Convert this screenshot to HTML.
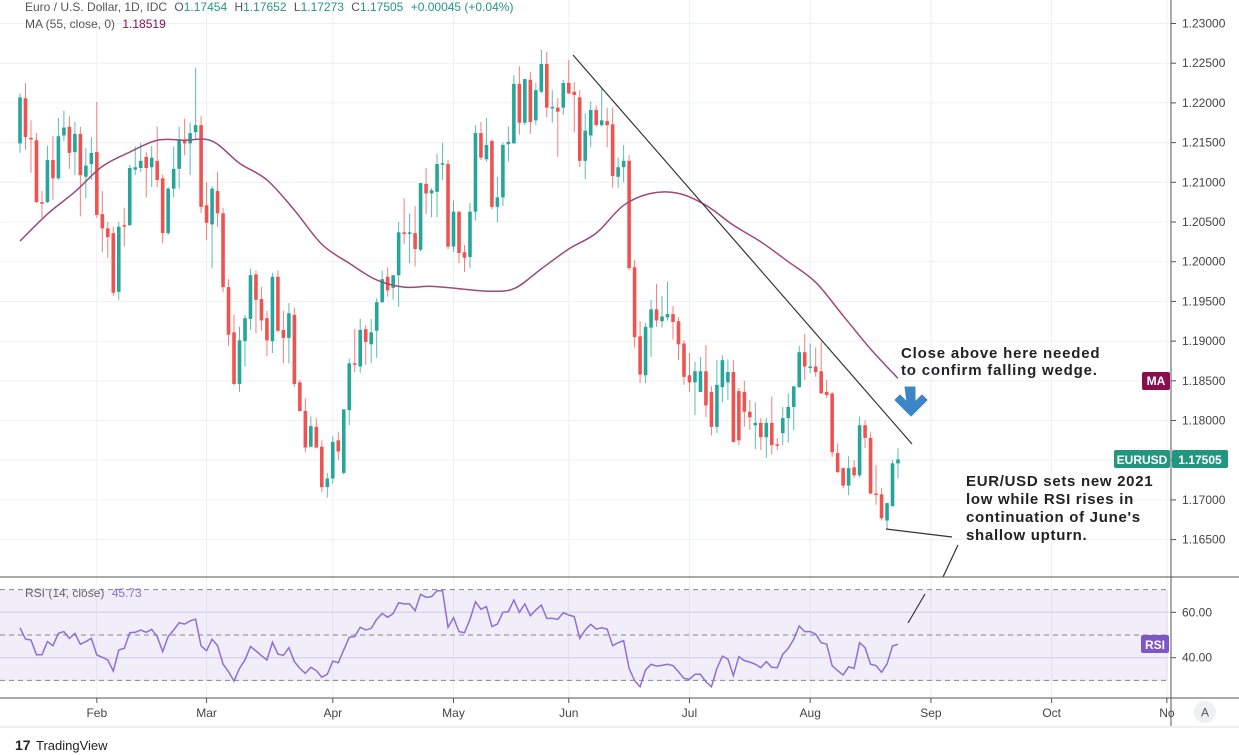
<!DOCTYPE html>
<html><head><meta charset="utf-8"><style>
html,body{margin:0;padding:0;background:#fff;}
svg{display:block;font-family:"Liberation Sans",sans-serif;}
</style></head><body>
<svg id="chart" width="1239" height="755" viewBox="0 0 1239 755" xmlns="http://www.w3.org/2000/svg">
<g id="grid"></g>
<rect x="0" y="590" width="1168" height="91" fill="#7e57c2" fill-opacity="0.1"/>
<g id="rsiLevels"></g>
<g id="candles"></g>
<path id="maLine" fill="none" stroke="#9c4a7a" stroke-width="1.5"/>
<polyline id="rsiLine" fill="none" stroke="#8e6fd6" stroke-width="1.5"/>
<line x1="573" y1="55" x2="912" y2="444" stroke="#333" stroke-width="1.2"/>
<line x1="886" y1="529" x2="952" y2="537" stroke="#333" stroke-width="1.2"/>
<line x1="958" y1="545" x2="943" y2="577" stroke="#333" stroke-width="1.2"/>
<line x1="925" y1="594" x2="908" y2="623" stroke="#333" stroke-width="1.2"/>
<path d="M905,387 h10 v15 l7,-7 l5,5 l-16,16 l-16,-16 l5,-5 l7,7 z" fill="#3d85c6" stroke="#3d85c6" stroke-width="1" stroke-linejoin="round"/>
<g font-size="15" font-weight="bold" fill="#222" letter-spacing="0.8">
<text x="901" y="358">Close above here needed</text>
<text x="901" y="375">to confirm falling wedge.</text>
</g>
<g font-size="15" font-weight="bold" fill="#222" letter-spacing="0.7">
<text x="966" y="486">EUR/USD sets new 2021</text>
<text x="966" y="504">low while RSI rises in</text>
<text x="966" y="522">continuation of June's</text>
<text x="966" y="540">shallow upturn.</text>
</g>
<line x1="1171" y1="0" x2="1171" y2="726" stroke="#555" stroke-width="1"/>
<line x1="0" y1="577" x2="1239" y2="577" stroke="#555" stroke-width="1"/>
<line x1="0" y1="698" x2="1239" y2="698" stroke="#555" stroke-width="1"/>
<rect x="0" y="726" width="1239" height="2" fill="#eef0f3"/>
<g id="priceAxis" font-size="12" fill="#444"></g>
<g id="timeAxis" font-size="12" fill="#444"></g>
<g><rect x="1142" y="372" width="28" height="18" rx="2" fill="#880e4f"/><text x="1156" y="385" font-size="12" font-weight="bold" fill="#fff" text-anchor="middle">MA</text></g>
<g><rect x="1114" y="450" width="56" height="18" rx="2" fill="#22977f"/><text x="1142" y="464" font-size="12" font-weight="bold" fill="#fff" text-anchor="middle">EURUSD</text></g>
<g><rect x="1172" y="450" width="56" height="18" rx="2" fill="#22977f"/><text x="1200" y="464" font-size="12" font-weight="bold" fill="#fff" text-anchor="middle">1.17505</text></g>
<g><rect x="1141" y="635" width="28" height="18" rx="2" fill="#7e57c2"/><text x="1155" y="649" font-size="12" font-weight="bold" fill="#fff" text-anchor="middle">RSI</text></g>
<g><circle cx="1205" cy="712" r="11" fill="#eef0f3"/><text x="1205" y="716.5" font-size="12" fill="#555" text-anchor="middle">A</text></g>
<g font-size="12" fill="#555">
<text x="25" y="11">Euro / U.S. Dollar, 1D, IDC  <tspan dx="4">O</tspan><tspan fill="#22977f">1.17454</tspan>  <tspan dx="4">H</tspan><tspan fill="#22977f">1.17652</tspan>  <tspan dx="4">L</tspan><tspan fill="#22977f">1.17273</tspan>  <tspan dx="4">C</tspan><tspan fill="#22977f">1.17505</tspan> <tspan dx="4" fill="#22977f">+0.00045 (+0.04%)</tspan></text>
<text x="25" y="28">MA (55, close, 0)  <tspan dx="4" fill="#880e4f">1.18519</tspan></text>
</g>
<text x="25" y="597" font-size="12" fill="#666">RSI (14, close) <tspan dx="4" fill="#8e6fd6">45.73</tspan></text>
<g><text x="15" y="750" font-size="14" font-weight="bold" fill="#222">17</text><text x="36" y="750" font-size="13" fill="#222">TradingView</text></g>
</svg>
<script>
const opens=[1.2149,1.2206,1.2156,1.2153,1.2075,1.2075,1.2128,1.2105,1.2159,1.2170,1.2138,1.2161,1.2107,1.2123,1.2138,1.2060,1.2042,1.2036,1.1962,1.2046,1.2046,1.2116,1.2118,1.2132,1.2119,1.2127,1.2105,1.2036,1.2092,1.2117,1.2154,1.2149,1.2163,1.2172,1.2071,1.2047,1.2089,1.2061,1.1968,1.1911,1.1846,1.1900,1.1928,1.1984,1.1953,1.1929,1.1900,1.1981,1.1914,1.1904,1.1933,1.1848,1.1812,1.1767,1.1792,1.1767,1.1716,1.1727,1.1775,1.1734,1.1813,1.1872,1.1868,1.1915,1.1896,1.1913,1.1949,1.1981,1.1967,1.1983,1.2037,1.2035,1.2036,1.2015,1.2098,1.2086,1.2088,1.2123,1.2123,1.2019,1.2063,1.2012,1.2006,1.2063,1.2162,1.2129,1.2152,1.2069,1.2081,1.2148,1.2149,1.2224,1.2175,1.2229,1.2178,1.2214,1.2249,1.2194,1.2194,1.2194,1.2225,1.2214,1.2207,1.2127,1.2159,1.2191,1.2172,1.2177,1.2173,1.2107,1.2119,1.2127,1.1993,1.1906,1.1857,1.1917,1.1940,1.1925,1.1930,1.1934,1.1925,1.1897,1.1857,1.1848,1.1836,1.1862,1.1836,1.1792,1.1842,1.1848,1.1861,1.1837,1.1836,1.1811,1.1794,1.1797,1.1779,1.1797,1.1770,1.1784,1.1803,1.1817,1.1842,1.1886,1.1867,1.1868,1.1862,1.1836,1.1834,1.1759,1.1740,1.1718,1.1741,1.1731,1.1794,1.1778,1.1708,1.1707,1.1674,1.1692,1.1746];
const highs=[1.2212,1.2225,1.2178,1.2162,1.2089,1.2146,1.2158,1.2181,1.2190,1.2183,1.2176,1.2170,1.2143,1.2157,1.2201,1.2089,1.2050,1.2044,1.2050,1.2068,1.2122,1.2145,1.2150,1.2138,1.2146,1.2170,1.2110,1.2094,1.2145,1.2170,1.2180,1.2175,1.2244,1.2183,1.2100,1.2095,1.2113,1.2068,1.1978,1.1933,1.1918,1.1933,1.1991,1.1989,1.1968,1.1938,1.1986,1.1989,1.1938,1.1948,1.1942,1.1851,1.1828,1.1805,1.1803,1.1775,1.1734,1.1780,1.1786,1.1814,1.1878,1.1915,1.1928,1.1920,1.1928,1.1954,1.1989,1.1993,1.1983,1.2050,1.2080,1.2061,1.2070,1.2099,1.2118,1.2093,1.2136,1.2150,1.2128,1.2077,1.2063,1.2021,1.2074,1.2172,1.2176,1.2181,1.2154,1.2107,1.2150,1.2170,1.2235,1.2246,1.2191,1.2239,1.2225,1.2267,1.2264,1.2216,1.2206,1.2229,1.2254,1.2226,1.2216,1.2187,1.2202,1.2197,1.2219,1.2194,1.2194,1.2131,1.2147,1.2134,1.2002,1.1925,1.1923,1.1952,1.1972,1.1957,1.1975,1.1944,1.1930,1.1901,1.1885,1.1874,1.1880,1.1895,1.1843,1.1876,1.1882,1.1877,1.1876,1.1841,1.1850,1.1826,1.1823,1.1803,1.1803,1.1830,1.1778,1.1817,1.1834,1.1843,1.1894,1.1909,1.1897,1.1892,1.1899,1.1851,1.1836,1.1771,1.1741,1.1755,1.1750,1.1805,1.1800,1.1785,1.1744,1.1715,1.1696,1.1750,1.1765];
const lows=[1.2137,1.2141,1.2112,1.2074,1.2055,1.2074,1.2078,1.2103,1.2152,1.2117,1.2109,1.2057,1.2080,1.2103,1.2055,1.2012,1.2005,1.1957,1.1952,1.2019,1.2045,1.2109,1.2113,1.2081,1.2094,1.2094,1.2023,1.2034,1.2081,1.2092,1.2134,1.2109,1.2153,1.2061,1.2027,1.1992,1.2044,1.1962,1.1894,1.1844,1.1836,1.1868,1.1914,1.1910,1.1913,1.1881,1.1885,1.1911,1.1872,1.1872,1.1842,1.1811,1.1760,1.1766,1.1765,1.1710,1.1703,1.1721,1.1750,1.1732,1.1794,1.1861,1.1860,1.1870,1.1872,1.1879,1.1948,1.1956,1.1952,1.1943,1.2022,1.1998,1.1994,1.2013,1.2060,1.2056,1.2056,1.2103,1.2016,1.2012,1.1998,1.1987,1.1992,1.2052,1.2128,1.2126,1.2066,1.2050,1.2070,1.2126,1.2149,1.2160,1.2172,1.2161,1.2172,1.2212,1.2182,1.2175,1.2132,1.2185,1.2211,1.2163,1.2119,1.2104,1.2144,1.2170,1.2170,1.2144,1.2093,1.2093,1.2100,1.1989,1.1892,1.1847,1.1847,1.1880,1.1918,1.1917,1.1926,1.1902,1.1876,1.1845,1.1836,1.1807,1.1836,1.1804,1.1781,1.1784,1.1823,1.1826,1.1772,1.1769,1.1792,1.1788,1.1764,1.1763,1.1753,1.1757,1.1763,1.1769,1.1772,1.1788,1.1841,1.1851,1.1860,1.1855,1.1834,1.1828,1.1754,1.1734,1.1715,1.1706,1.1728,1.1728,1.1765,1.1707,1.1694,1.1674,1.1663,1.1692,1.1727];
const closes=[1.2207,1.2157,1.2154,1.2075,1.2074,1.2128,1.2105,1.2158,1.2169,1.2137,1.2161,1.2109,1.2121,1.2137,1.2059,1.2042,1.2031,1.1961,1.2044,1.2045,1.2118,1.2119,1.2127,1.2118,1.2131,1.2103,1.2036,1.2092,1.2117,1.2154,1.2149,1.2162,1.2172,1.2069,1.2049,1.2092,1.2061,1.1968,1.1908,1.1846,1.1901,1.1929,1.1983,1.1952,1.1926,1.1901,1.1981,1.1913,1.1904,1.1935,1.1846,1.1812,1.1766,1.1793,1.1766,1.1716,1.1727,1.1773,1.1761,1.1814,1.1872,1.1871,1.1914,1.1899,1.1911,1.1949,1.1978,1.1964,1.1983,1.2037,1.2035,1.2037,1.2016,1.2099,1.2086,1.2090,1.2123,1.2124,1.2019,1.2063,1.2011,1.2005,1.2063,1.2162,1.2131,1.2147,1.2069,1.2081,1.2147,1.2151,1.2224,1.2175,1.2230,1.2176,1.2216,1.2249,1.2194,1.2195,1.2189,1.2225,1.2212,1.2210,1.2127,1.2165,1.2191,1.2172,1.2178,1.2172,1.2108,1.2119,1.2127,1.1992,1.1905,1.1858,1.1918,1.1940,1.1926,1.1931,1.1934,1.1924,1.1896,1.1855,1.1848,1.1862,1.1862,1.1819,1.1792,1.1845,1.1876,1.1861,1.1773,1.1775,1.1811,1.1804,1.1797,1.1779,1.1797,1.1769,1.1769,1.1803,1.1817,1.1843,1.1886,1.1868,1.1868,1.1861,1.1834,1.1832,1.1760,1.1735,1.1718,1.1740,1.1731,1.1794,1.1778,1.1708,1.1707,1.1677,1.1696,1.1746,1.1751];
const maBarIndex=[0,5,10,15,20,25,30,35,40,45,50,55,60,65,70,75,80,85,90,95,100,105,110,115,120,125,130,135,140,145,150,155,160];
const maValues=[1.2026,1.2060,1.2088,1.2120,1.2138,1.2153,1.2153,1.2152,1.2124,1.2103,1.2065,1.2022,1.1998,1.1977,1.1968,1.1969,1.1966,1.1963,1.1966,1.1991,1.2016,1.2036,1.2071,1.2086,1.2086,1.2071,1.2046,1.2025,1.2000,1.1974,1.1932,1.1890,1.1853];
const rsiValues=[53.2,48.2,47.8,41.3,41.3,47.1,45.3,50.7,51.5,48.5,50.7,45.9,47.1,48.5,41.2,40.2,39.0,34.1,43.4,44.1,51.0,51.2,52.2,51.2,52.5,49.3,42.7,49.3,52.2,55.4,54.8,56.2,57.0,45.2,43.1,48.1,45.3,37.2,33.8,29.7,35.3,39.0,44.9,43.0,40.9,39.0,46.8,41.6,41.0,44.4,38.3,35.3,33.1,35.8,34.3,31.4,32.7,38.5,37.8,43.4,49.0,49.3,53.4,52.2,52.9,56.9,59.5,57.8,59.5,64.2,63.7,63.7,60.7,67.9,66.6,66.9,69.5,69.5,53.4,57.6,51.5,51.0,56.9,64.7,61.3,62.5,53.7,54.8,60.0,60.3,65.4,60.0,63.7,58.5,61.0,63.2,57.3,57.3,56.9,59.8,58.8,58.1,48.5,52.2,54.7,52.6,53.2,52.6,45.3,46.6,47.5,35.3,29.9,27.2,34.6,37.1,36.3,36.6,37.1,36.5,33.8,30.9,30.5,32.7,32.7,29.4,27.2,35.3,40.7,39.4,32.1,40.5,38.7,38.1,37.1,35.6,38.3,35.8,35.6,41.5,44.1,48.1,54.0,51.5,51.5,50.4,46.6,46.0,36.5,34.3,32.4,36.0,35.3,46.6,44.4,37.1,36.5,33.6,37.2,45.2,45.9];
const priceTicks=[1.230,1.225,1.220,1.215,1.210,1.205,1.200,1.195,1.190,1.185,1.180,1.175,1.170,1.165];
const rsiTicks=[60,40];
const rsiDashed=[70,50,30];
const monthLabels=["Feb","Mar","Apr","May","Jun","Jul","Aug","Sep","Oct","No"];
const monthBarPos=[14,34,57,79,100,122,144,166,188,209];

const NS="http://www.w3.org/2000/svg";
function xBar(i){return 20+i*5.4875;}
function yP(p){return 23.5+(1.23-p)/0.005*39.7;}
function yR(v){return 635-(v-50)*2.27;}
function mk(tag,attrs,parent){const e=document.createElementNS(NS,tag);for(const k in attrs)e.setAttribute(k,attrs[k]);parent.appendChild(e);return e;}

const grid=document.getElementById('grid');
priceTicks.forEach(function(p){
  const l=mk('line',{x1:0,x2:1171,y1:yP(p),y2:yP(p),stroke:'#edf0f4','stroke-width':1},grid);
  
  
});
rsiTicks.forEach(function(v){
  const l=mk('line',{x1:0,x2:1171,y1:yR(v),y2:yR(v),stroke:'#dcd6ee','stroke-width':1},grid);
  
  
});
monthBarPos.forEach(function(b){
  const l=mk('line',{x1:xBar(b),x2:xBar(b),y1:0,y2:698,stroke:'#edf0f4','stroke-width':1},grid);
  
  
});
const lv=document.getElementById('rsiLevels');
rsiDashed.forEach(function(v){
  const l=mk('line',{x1:0,x2:1168,y1:yR(v),y2:yR(v),stroke:'#888','stroke-width':1,'stroke-dasharray':'5,4'},lv);
  
  
});

const cg=document.getElementById('candles');
for(let i=0;i<closes.length;i++){
  const up=closes[i]>=opens[i];
  const col=up?'#26a69a':'#ef5350';
  const g=mk('g',{},cg);
  
  
  const x=xBar(i);
  mk('line',{x1:x,x2:x,y1:yP(highs[i]),y2:yP(lows[i]),stroke:col,'stroke-width':1,'stroke-opacity':0.75},g);
  const t=yP(Math.max(opens[i],closes[i])),b=yP(Math.min(opens[i],closes[i]));
  mk('rect',{x:x-1.8,y:t,width:3.6,height:Math.max(1.5,b-t),fill:col},g);
}
// smooth MA via Catmull-Rom
(function(){
  const pts=maBarIndex.map(function(b,k){return [xBar(b),yP(maValues[k])];});
  let d='M'+pts[0][0]+','+pts[0][1];
  for(let i=0;i<pts.length-1;i++){
    const p0=pts[Math.max(0,i-1)],p1=pts[i],p2=pts[i+1],p3=pts[Math.min(pts.length-1,i+2)];
    const c1=[p1[0]+(p2[0]-p0[0])/6,p1[1]+(p2[1]-p0[1])/6];
    const c2=[p2[0]-(p3[0]-p1[0])/6,p2[1]-(p3[1]-p1[1])/6];
    d+=' C'+c1[0]+','+c1[1]+' '+c2[0]+','+c2[1]+' '+p2[0]+','+p2[1];
  }
  document.getElementById('maLine').setAttribute('d',d);
})();
document.getElementById('rsiLine').setAttribute('points',rsiValues.map(function(v,i){return xBar(i)+','+yR(v);}).join(' '));

const pa=document.getElementById('priceAxis');
priceTicks.forEach(function(p){
  const y=yP(p);
  mk('line',{x1:1171,x2:1176,y1:y,y2:y,stroke:'#555'},pa);
  const t=mk('text',{x:1182,y:y+4},pa);
  t.textContent=p.toFixed(5);
  
  
});
rsiTicks.forEach(function(v){
  const y=yR(v);
  mk('line',{x1:1171,x2:1176,y1:y,y2:y,stroke:'#555'},pa);
  const t=mk('text',{x:1182,y:y+4},pa);
  t.textContent=v.toFixed(2);
  
  
});
const ta=document.getElementById('timeAxis');
monthLabels.forEach(function(m,k){
  const x=xBar(monthBarPos[k]);
  mk('line',{x1:x,x2:x,y1:698,y2:703,stroke:'#555'},ta);
  const t=mk('text',{x:x,y:717,'text-anchor':'middle'},ta);
  t.textContent=m;
  
  
});
</script>
</body></html>
